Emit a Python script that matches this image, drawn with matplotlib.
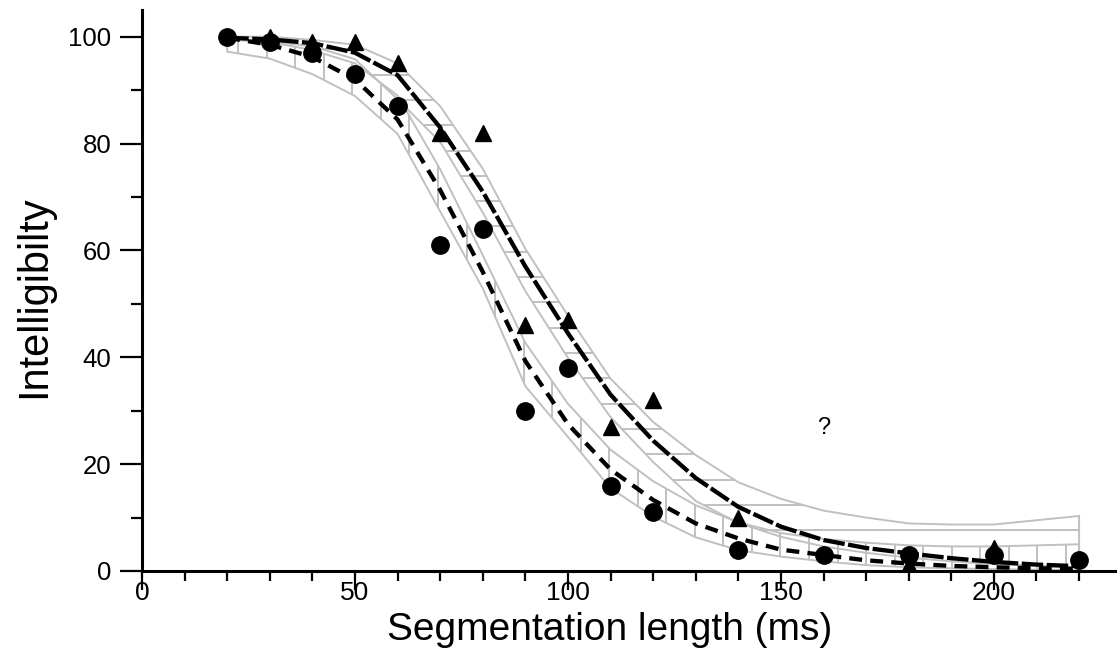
import numpy as np
import matplotlib
matplotlib.use("Agg")
import matplotlib.pyplot as plt
from matplotlib.patches import Polygon
from matplotlib.collections import LineCollection
from matplotlib import font_manager

plt.rcParams['font.family'] = ['Liberation Sans', 'DejaVu Sans']

# ---------------- data ----------------
# measured points: circles
circ_x = [20, 30, 40, 50, 60, 70, 80, 90, 100, 110, 120, 140, 160, 180, 200, 220]
circ_y = [100, 99, 97, 93, 87, 61, 64, 30, 38, 16, 11, 4, 3, 3, 3, 2]
# measured points: triangles
tri_x = [30, 40, 50, 60, 70, 80, 90, 100, 110, 120, 140, 180, 200]
tri_y = [100, 99, 99, 95, 82, 82, 46, 47, 27, 32, 10, 1.1, 4.3]

# fitted curves (sampled every 10 ms)
fit_x = [20, 30, 40, 50, 60, 70, 80, 90, 100, 110, 120, 130, 140, 150, 160, 170, 180, 190, 200, 210, 220]
fit_tri = [99.8, 99.5, 98.8, 97.0, 92.8, 83.0, 71.0, 57.0, 44.5, 33.0, 24.4, 17.4, 12.0, 8.3, 5.8, 4.3, 3.3, 2.4, 1.7, 1.2, 0.9]
fit_circ = [99.8, 98.5, 96.2, 92.0, 84.5, 71.3, 56.0, 39.3, 27.5, 19.0, 13.3, 8.9, 6.1, 4.0, 3.0, 2.0, 1.4, 0.95, 0.7, 0.5, 0.4]

# confidence bands (same x samples)
band_tri_lo = [99.5, 99.1, 98.2, 95.8, 88.3, 80.3, 67.1, 52.4, 39.9, 28.8, 20.4, 13.1, 9.0, 6.4, 4.6, 3.4, 2.5, 1.8, 1.3, 1.0, 0.7]
band_tri_hi = [100, 100, 99.4, 98.5, 95.0, 87.0, 75.3, 60.3, 47.8, 36.0, 27.9, 21.7, 16.6, 13.5, 11.3, 10.0, 8.9, 8.7, 8.7, 9.5, 10.3]
band_circ_lo = [97.2, 95.9, 93.0, 88.9, 81.8, 67.3, 52.9, 34.6, 25.1, 15.5, 10.2, 6.3, 3.9, 2.7, 1.8, 1.1, 0.7, 0.5, 0.35, 0.25, 0.2]
band_circ_hi = [99.5, 99.0, 97.5, 95.0, 89.0, 75.2, 59.1, 42.7, 31.3, 22.7, 16.8, 12.3, 9.1, 7.1, 6.0, 5.3, 4.8, 4.6, 4.6, 4.8, 5.0]

x_major = [0, 50, 100, 150, 200]
y_major = [0, 20, 40, 60, 80, 100]

GREY = '#c0c0c0'

installed = {f.name for f in font_manager.fontManager.ttflist}
NARROW = ['Liberation Sans Narrow'] if 'Liberation Sans Narrow' in installed else []
narrow_family = NARROW + ['Liberation Sans', 'DejaVu Sans']
narrow_size = 23 if NARROW else 19

fig = plt.figure(figsize=(11.17, 6.56), dpi=100)
ax = fig.add_axes([142 / 1117, 85 / 656, 975 / 1117, 561 / 656])
ax.set_xlim(0, 228.9)
ax.set_ylim(0, 105)


def band(lo, hi, hatch, spacing, phase):
    xs = np.asarray(fit_x, float)
    verts = np.column_stack([np.r_[xs, xs[::-1]], np.r_[lo, np.asarray(hi)[::-1]]])
    patch = Polygon(verts, closed=True, fill=False, edgecolor=GREY, lw=1.4, zorder=1)
    ax.add_patch(patch)
    if hatch == 'v':
        pos = np.arange(phase, 221, spacing)
        segs = [[(p, -5), (p, 110)] for p in pos]
    else:
        pos = np.arange(phase, 101, spacing)
        segs = [[(-5, p), (240, p)] for p in pos]
    lc = LineCollection(segs, colors=GREY, linewidths=1.4, zorder=1)
    ax.add_collection(lc)
    lc.set_clip_path(patch)


band(band_circ_lo, band_circ_hi, 'v', 6.70, 22.6)
band(band_tri_lo, band_tri_hi, 'h', 4.74, 7.6)

ax.plot(fit_x, fit_tri, color='black', lw=3.1, dashes=(5.0, 0.8), zorder=3)
ax.plot(fit_x, fit_circ, color='black', lw=3.1, dashes=(3.0, 1.9), zorder=3)

ax.plot(tri_x, tri_y, linestyle='none', marker='^', ms=11.5, color='black', zorder=4)
ax.plot(circ_x, circ_y, linestyle='none', marker='o', ms=12.5, color='black', zorder=5)

ax.text(160, 26.8, '?', ha='center', va='center', fontsize=17, family=narrow_family)

# axes styling
for s in ['top', 'right']:
    ax.spines[s].set_visible(False)
for s in ['left', 'bottom']:
    ax.spines[s].set_linewidth(2.2)

ax.set_xticks(x_major)
ax.set_xticks(np.arange(10, 221, 10), minor=True)
ax.set_yticks(y_major)
ax.set_yticks(np.arange(10, 100, 20), minor=True)
ax.tick_params(axis='y', which='major', direction='out', length=16, width=1.6, pad=6, labelsize=18.5)
ax.tick_params(axis='y', which='minor', direction='out', length=8, width=1.6)
ax.tick_params(axis='x', which='major', direction='out', length=14, width=1.6, pad=-6.5)
ax.tick_params(axis='x', which='minor', direction='out', length=7, width=1.6)
for lab in ax.get_xticklabels():
    lab.set_fontfamily(narrow_family)
    lab.set_fontsize(narrow_size)
    lab.set_zorder(10)

fig.text(610 / 1117, 1 - 640 / 656, 'Segmentation length (ms)', ha='center', va='baseline', fontsize=28)
fig.text(45 / 1117, 1 - 297 / 656, 'Intelligibilty', ha='center', va='baseline', rotation=90,
         rotation_mode='anchor', fontsize=30)

fig.savefig('out.png', dpi=100)
